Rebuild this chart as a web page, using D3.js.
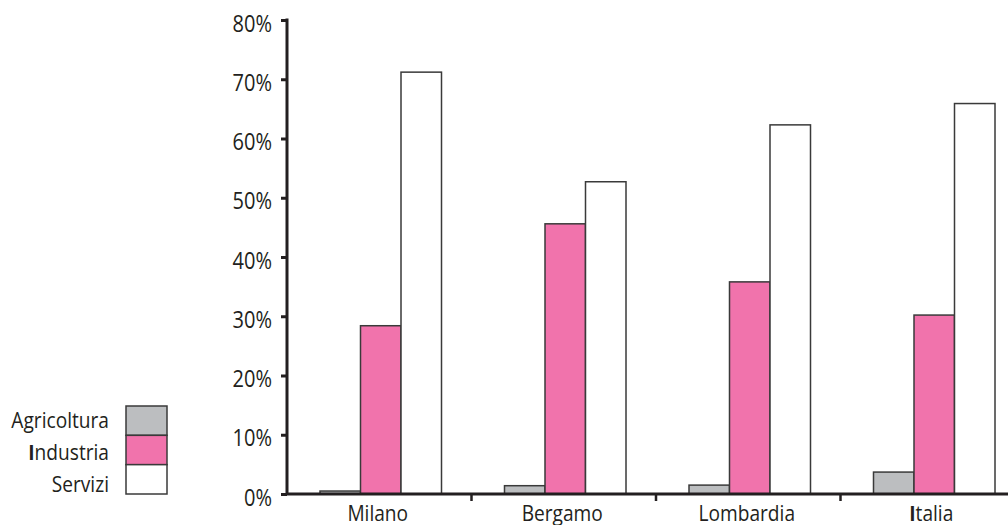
<!DOCTYPE html>
<html>
<head>
<meta charset="utf-8">
<script src="https://cdn.jsdelivr.net/npm/d3@7"></script>
<style>
  html, body { margin: 0; padding: 0; background: #fff; }
  svg text { font-family: "Open Sans", "Noto Sans", sans-serif; fill: #231f20; }
</style>
</head>
<body>
<svg id="chart" width="1008" height="525"></svg>
<script>
// Areas compared
const categories = ["Milano", "Bergamo", "Lombardia", "Italia"];
// Sectors
const sectors = ["Agricoltura", "Industria", "Servizi"];
// Share of employment by sector (%)
const agricoltura = [0.5, 1.4, 1.5, 3.7];
const industria   = [28.4, 45.6, 35.8, 30.2];
const servizi     = [71.2, 52.7, 62.3, 65.9];
const yTicks = [0, 10, 20, 30, 40, 50, 60, 70, 80];

const seriesValues = [agricoltura, industria, servizi];
const colors = ["#bcbec0", "#f173ac", "#ffffff"];
const ink = "#231f20";

const svg = d3.select("#chart");

const x0 = d3.scaleBand().domain(categories).range([287, 1025]);
const x1 = d3.scaleBand().domain(sectors).range([33, 33 + 121.5]);
const y = d3.scaleLinear().domain([0, 80]).range([494, 20]);

// Narrow humanist lettering: a slightly condensed sans
function label(parent, x, yPos, str, anchor, size) {
  const g = parent.append("g").attr("transform", `translate(${x},${yPos}) scale(0.87,1)`);
  const t = g.append("text")
    .attr("text-anchor", anchor)
    .attr("font-size", size);
  if (str[0] === "I") {
    t.append("tspan").attr("font-weight", "bold").text(str[0]);
    t.append("tspan").text(str.slice(1));
  } else {
    t.text(str);
  }
  return g;
}

// Bars
const groups = svg.append("g").selectAll("g")
  .data(categories)
  .join("g")
  .attr("transform", d => `translate(${x0(d)},0)`);

groups.selectAll("rect")
  .data((c, i) => sectors.map((s, j) => ({ sector: s, value: seriesValues[j][i], color: colors[j] })))
  .join("rect")
  .attr("x", d => x1(d.sector))
  .attr("width", x1.bandwidth())
  .attr("y", d => y(d.value))
  .attr("height", d => y(0) - y(d.value))
  .attr("fill", d => d.color)
  .attr("stroke", "#3a3a3a")
  .attr("stroke-width", 1.5);

// Y axis
const yAxis = d3.axisLeft(y).tickValues(yTicks).tickFormat("").tickSize(6);
const gy = svg.append("g").attr("transform", "translate(287,0)").call(yAxis);
gy.select(".domain").attr("stroke", ink).attr("stroke-width", 3).attr("d", "M0,18.5V494");
gy.selectAll(".tick line").attr("stroke", ink).attr("stroke-width", 3);
gy.selectAll(".tick text").remove();
const yLabels = svg.append("g");
yTicks.forEach(v => label(yLabels, 272, y(v) + 11.5, v + "%", "end", 23));

// X axis
const gx = svg.append("g").attr("transform", "translate(0,494)");
gx.append("path").attr("d", "M287,0H1008").attr("stroke", ink).attr("stroke-width", 3).attr("fill", "none");
gx.selectAll("line.sep")
  .data(categories.slice(1))
  .join("line")
  .attr("class", "sep")
  .attr("x1", d => x0(d)).attr("x2", d => x0(d))
  .attr("y1", 0).attr("y2", 7)
  .attr("stroke", ink).attr("stroke-width", 2.5);
categories.forEach(c => label(gx, x0(c) + 33 + 121.5 / 2 - 3, 27, c, "middle", 22));

// Legend
const legend = svg.append("g");
const legendY = d3.scaleBand().domain(sectors).range([406, 494]);
const legendText = d3.scalePoint().domain(sectors).range([428, 492]);
legend.selectAll("rect")
  .data(sectors)
  .join("rect")
  .attr("x", 126)
  .attr("y", d => legendY(d))
  .attr("width", 41)
  .attr("height", legendY.bandwidth())
  .attr("fill", (d, i) => colors[i])
  .attr("stroke", "#3a3a3a")
  .attr("stroke-width", 1.5);
sectors.forEach(s => label(legend, 109, legendText(s), s, "end", 22));
</script>
</body>
</html>
